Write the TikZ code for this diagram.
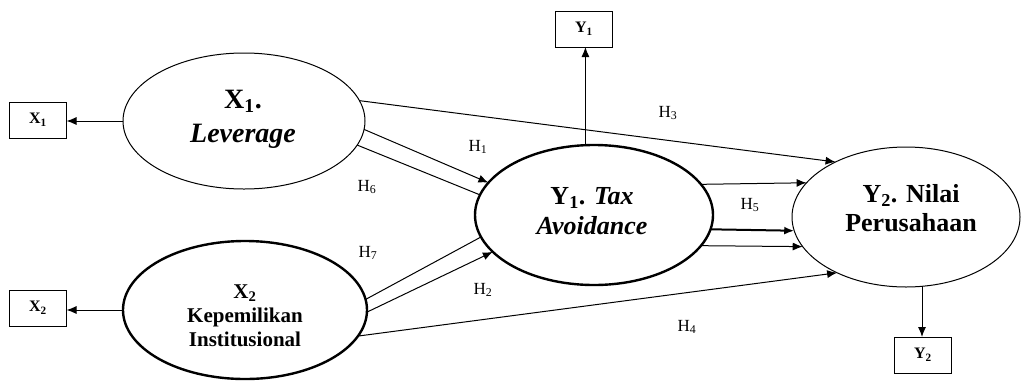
\documentclass[tikz,border=0pt]{standalone}
\usepackage{fontspec}
\setmainfont{Liberation Serif}
\usetikzlibrary{arrows.meta,shapes.geometric}
\begin{document}
\begin{tikzpicture}[x=1pt,y=-1pt,
  thinell/.style={draw, ellipse, line width=1pt, inner sep=0pt, outer sep=0pt},
  thickell/.style={draw, ellipse, line width=2.4pt, inner sep=0pt, outer sep=0pt},
  mbox/.style={draw, line width=1pt, minimum width=57pt, minimum height=36pt, inner sep=0pt, outer sep=0pt, font=\fontsize{16}{18}\selectfont\bfseries},
  arr/.style={-{Latex[length=10pt,width=8pt]}, line width=1pt},
  ln/.style={line width=1pt},
  hl/.style={font=\fontsize{17}{19}\selectfont, inner sep=0pt},
  etext/.style={align=center, inner sep=0pt},
]
\useasboundingbox (0,0) rectangle (1024,381);
% latent variables
\node[thinell, minimum width=242pt, minimum height=136pt] (x1) at (244,121) {};
\node[thickell, minimum width=244pt, minimum height=138pt] (x2) at (245,310) {};
\node[thickell, minimum width=238pt, minimum height=140pt] (y1) at (594,215) {};
\node[thinell, minimum width=228pt, minimum height=140pt] (y2) at (906,217) {};
% texts
\node[etext, font=\fontsize{28}{34}\selectfont\bfseries] (x1t) at (243,119) {X\textsubscript{1}.\\\textit{Leverage}};
\node[etext, font=\fontsize{21}{24}\selectfont\bfseries] (x2t) at (245,316) {X\textsubscript{2}\\Kepemilikan\\Institusional};
\node[etext, font=\fontsize{26}{30}\selectfont\bfseries] (y1t) at (592,211) {Y\textsubscript{1}. \textit{Tax}\\\textit{Avoidance}};
\node[etext, font=\fontsize{26}{29}\selectfont\bfseries] (y2t) at (911,208) {Y\textsubscript{2}. Nilai\\Perusahaan};
% indicator boxes
\node[mbox] (xb1) at (38,120) {X\textsubscript{1}};
\node[mbox] (xb2) at (38,308) {X\textsubscript{2}};
\node[mbox] (yb1) at (584,29) {Y\textsubscript{1}};
\node[mbox] (yb2) at (923,355) {Y\textsubscript{2}};
% indicator arrows
\draw[arr] (x1.west) -- (x1.west -| xb1.east);
\draw[arr] (x2.west) -- (x2.west -| xb2.east);
\draw[arr] (y1.97.3) -- (y1.97.3 |- yb1.south);
\draw[arr] (y2.-77) -- (y2.-77 |- yb2.north);
% hypotheses
\draw[arr] (x1.10.3) -- (y2.142.2);
\draw[arr] (x1.-4.3) -- (y1.163.6);
\draw[ln] (x1.-12) -- (y1.170);
\draw[ln] (x2.5.2) -- (y1.191.6);
\draw[arr] (x2.-1.9) -- (y1.200);
\draw[arr] (x2.-13) -- (y2.219.5);
\draw[arr] (y1.16.8) -- (y2.161.1);
\draw[arr, line width=2pt] (y1.-7.9) -- (y2.187.1);
\draw[arr] (y1.-16.8) -- (y2.196.2);
% labels
\node[hl] (h3) at (668,113) {H\textsubscript{3}};
\node[hl] (h1) at (478,147) {H\textsubscript{1}};
\node[hl] (h6) at (367,187) {H\textsubscript{6}};
\node[hl] (h7) at (368,253) {H\textsubscript{7}};
\node[hl] (h2) at (483,290) {H\textsubscript{2}};
\node[hl] (h4) at (687,327) {H\textsubscript{4}};
\node[hl] (h5) at (750,205) {H\textsubscript{5}};
\end{tikzpicture}
\end{document}
